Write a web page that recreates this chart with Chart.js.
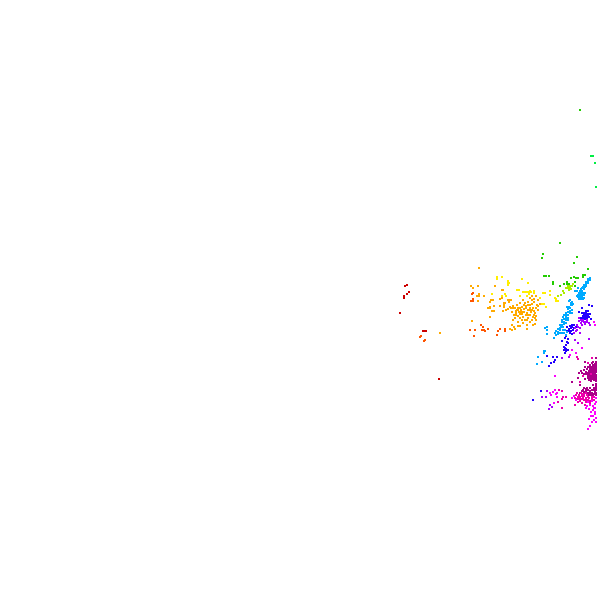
<!DOCTYPE html>
<html><head><meta charset="utf-8">
<style>html,body{margin:0;padding:0;background:#fff}canvas{display:block}</style>
<script src="https://cdn.jsdelivr.net/npm/chart.js@4"></script></head>
<body><canvas id="c" width="597" height="589"></canvas>
<script>
const darkRed=[[405,286],[407,285],[409,292],[407,294],[404,296],[404,298],[400,313],[423,331],[425,331],[426,331],[439,379]];
const orangeRed=[[420,337],[421,336],[424,341],[425,340],[472,294],[473,293],[471,301],[473,301],[473,299],[481,325],[483,327],[470,330],[475,330],[482,330],[484,330],[485,331],[488,329],[474,336],[500,329],[498,331],[497,335],[505,329],[505,331]];
const orange=[[440,333],[479,268],[471,286],[473,288],[478,286],[479,294],[479,296],[477,296],[484,296],[478,301],[490,302],[488,308],[490,308],[490,307],[490,317],[472,321],[495,286],[502,290],[503,290],[491,300],[493,300],[494,306],[492,311],[494,311],[500,306],[503,311],[506,310],[504,303],[504,305],[504,307],[509,300],[511,300],[509,302],[511,308],[513,308],[515,308],[508,300],[505,303],[502,298],[500,299],[510,307],[508,309],[513,306],[517,305],[520,303],[515,308],[512,312],[518,310],[522,307],[523,300],[528,302],[532,300],[530,305],[533,308],[528,310],[527,313],[523,317],[520,318],[515,318],[513,320],[518,322],[525,320],[530,315],[535,313],[537,305],[538,300],[533,317],[530,322],[535,318],[538,310],[517,310],[519,312],[521,310],[524,309],[526,306],[525,303],[516,313],[514,315],[520,314],[522,314],[526,315],[524,312],[530,308],[532,304],[534,302],[536,308],[531,312],[528,318],[536,296],[532,296],[530,298],[534,299],[512,325],[514,327],[518,326],[520,326],[523,323],[527,325],[533,325],[535,324],[510,329],[512,330],[515,329],[527,329],[536,320],[540,304],[538,306],[516,311],[518,308],[520,308],[522,312],[526,308],[528,305],[524,305],[520,312],[516,315],[518,316],[528,315],[530,310],[532,310],[534,311],[534,315],[536,316],[532,320],[522,320],[527,320]];
const yellow=[[497,277],[497,279],[502,277],[508,281],[508,283],[508,285],[509,283],[522,279],[528,283],[517,290],[519,290],[523,292],[525,292],[527,292],[529,292],[531,292],[527,296],[529,294],[534,291],[534,293],[492,294],[502,296],[505,294],[506,296],[543,293],[545,293],[550,291],[550,295],[555,298],[556,301],[558,301],[556,299],[542,304],[544,304],[546,307],[520,296],[530,291],[540,298]];
const lime=[[568,286],[570,286],[568,288],[570,288],[572,286],[569,290],[563,291],[564,293],[561,295],[573,284],[558,296],[571,289],[566,288]];
const green=[[580,110],[560,243],[543,254],[542,258],[577,257],[574,263],[588,269],[544,276],[546,276],[549,276],[553,282],[553,284],[560,286],[564,284],[567,282],[569,284],[567,284],[571,278],[574,277],[576,278],[578,278],[583,275],[585,275],[583,277],[575,282],[575,286]];
const brightGreen=[[591,156],[593,156],[595,163],[596,187]];
const cyan=[[589,279],[588,281],[587,283],[585,285],[584,287],[583,287],[581,289],[584,289],[582,291],[580,293],[583,293],[585,293],[578,295],[580,295],[582,295],[578,297],[580,297],[582,297],[584,298],[575,291],[577,291],[578,288],[570,300],[569,301],[572,302],[573,304],[571,305],[569,307],[568,309],[571,303],[567,307],[572,305],[568,315],[572,313],[570,313],[563,317],[564,315],[566,317],[562,322],[564,322],[560,325],[562,325],[566,320],[555,333],[558,332],[563,330],[565,330],[560,330],[567,332],[562,333],[554,338],[547,327],[545,328],[547,330],[547,334],[544,351],[545,351],[544,353],[538,357],[542,362],[537,364],[590,278],[588,279],[590,280],[586,282],[588,283],[586,284],[584,285],[586,286],[582,288],[585,287],[580,291],[579,293],[581,293],[584,295],[577,296],[579,299],[581,299],[583,299],[570,308],[570,311],[568,312],[566,313],[572,310],[566,315],[568,318],[566,319],[564,319],[568,320],[562,320],[564,324],[566,323],[561,327],[563,327],[558,329],[560,328],[556,331],[558,334],[560,333],[564,333],[566,335],[556,335]];
const blue=[[589,305],[592,306],[582,308],[579,312],[582,313],[584,313],[586,313],[588,314],[590,314],[583,316],[585,316],[587,316],[589,317],[581,318],[584,319],[586,319],[591,319],[572,325],[574,325],[576,327],[577,330],[567,327],[569,329],[571,328],[573,330],[567,331],[570,333],[572,334],[565,338],[567,342],[568,343],[562,341],[564,347],[565,348],[564,350],[566,351],[568,350],[565,353],[547,356],[553,357],[557,357],[555,360],[554,362],[551,363],[549,366],[541,391],[533,400],[586,311],[588,311],[584,315],[586,315],[588,316],[583,318],[585,318],[587,318],[570,326],[572,327],[574,328],[569,331],[571,331],[566,336],[568,339],[566,345],[566,349]];
const violet=[[579,318],[582,321],[585,322],[587,320],[589,323],[590,325],[582,325],[580,328],[577,330],[575,328],[580,333],[589,339],[575,340],[578,343],[562,358],[569,357],[547,391],[546,397],[542,397],[550,405],[552,407],[549,409],[585,324],[577,325],[579,321],[581,320],[583,320],[584,322],[581,323],[587,322],[578,327],[576,331],[574,333]];
const magenta=[[595,325],[594,322],[572,350],[576,353],[570,355],[582,348],[555,376],[550,393],[551,395],[553,392],[556,394],[557,393],[557,397],[555,390],[554,403],[587,406],[589,409],[591,412],[594,408],[593,416],[589,419],[592,422],[590,426],[588,429],[595,404],[595,412],[592,401],[588,402],[593,406],[595,408],[593,410],[595,414],[591,416],[596,418],[594,420],[596,402],[590,405],[586,408],[596,422],[596,398],[574,396],[576,400],[572,398]];
const pink=[[577,357],[578,359],[559,390],[562,391],[563,397],[566,397],[562,399],[558,402],[562,408],[575,405],[578,402],[577,399],[580,399],[582,403],[585,405],[583,398],[586,400],[590,403],[589,398],[592,399],[575,398],[576,395],[584,394],[587,395],[591,374],[583,376],[580,382],[588,363],[592,358],[578,397],[580,397],[582,396],[584,396],[586,398],[588,400],[584,400],[580,401],[578,399],[582,399],[586,402],[590,401],[581,393],[579,395],[577,393],[582,394],[586,393],[588,397],[592,397],[594,400],[594,397]];
const crimson=[[590,367],[592,369],[594,370],[596,368],[589,371],[591,372],[593,373],[595,373],[586,372],[584,370],[581,371],[579,373],[587,369],[585,367],[593,365],[595,364],[594,376],[596,377],[592,377],[590,377],[588,376],[589,380],[591,381],[594,380],[596,381],[585,379],[578,378],[572,382],[593,362],[596,358],[585,362],[580,385],[587,388],[593,385],[596,386],[590,391],[592,393],[595,392],[596,395],[590,395],[593,396],[596,398],[588,393],[585,392],[583,390],[580,393],[586,389],[590,369],[592,367],[594,368],[596,366],[594,366],[596,370],[596,372],[590,373],[588,373],[592,375],[594,374],[596,375],[590,375],[588,374],[586,374],[584,374],[582,373],[588,367],[590,365],[594,372],[592,371],[590,371],[594,378],[592,379],[590,379],[596,379],[588,378],[596,362],[596,364],[592,363],[596,388],[594,388],[596,390],[594,390],[592,390],[590,388],[588,390],[586,391],[594,394],[592,395],[588,395],[590,393],[584,392],[582,391],[596,393],[584,388],[596,384]];

const series=[[darkRed,'#cc0000'],[orangeRed,'#ff5500'],[orange,'#ffaa00'],[yellow,'#ffee00'],[green,'#22cc00'],[brightGreen,'#00ee44'],[lime,'#aaee00'],[cyan,'#00aaff'],[violet,'#aa00ff'],[blue,'#2200ff'],[magenta,'#ff00ff'],[pink,'#ee00aa'],[crimson,'#aa0088']];
new Chart(document.getElementById('c'),{
  type:'scatter',
  data:{datasets:series.map(([pts,color])=>({
    data:pts.map(([x,y])=>({x,y})),
    backgroundColor:color,pointStyle:'rect',pointRadius:Math.SQRT2,pointBorderWidth:0,pointHoverRadius:0,clip:false
  }))},
  options:{responsive:false,animation:false,devicePixelRatio:1,layout:{padding:0,autoPadding:false},
    plugins:{legend:{display:false},tooltip:{enabled:false},title:{display:false}},
    scales:{x:{type:'linear',display:false,min:0,max:597},y:{type:'linear',display:false,min:0,max:589,reverse:true}}}
});
</script></body></html>
